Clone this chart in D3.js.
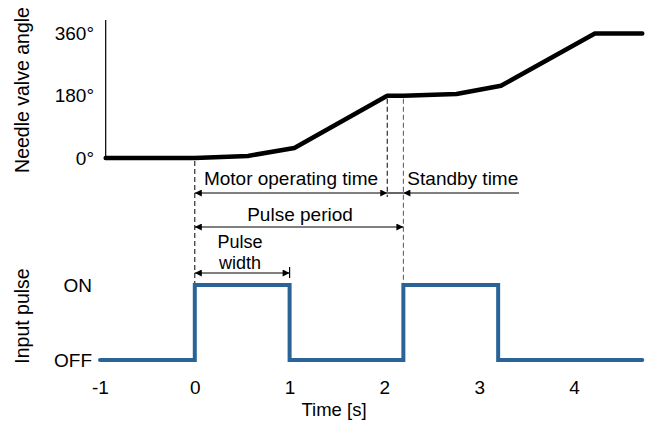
<!DOCTYPE html>
<html>
<head>
<meta charset="utf-8">
<script src="https://cdn.jsdelivr.net/npm/d3@7"></script>
<style>
  html, body { margin: 0; padding: 0; background: #fff; }
  svg { display: block; font-family: "Liberation Sans", Arial, Helvetica, sans-serif; }
</style>
</head>
<body>
<svg id="chart" width="651" height="425"></svg>
<script>
// ---- data ----
const timeTicks = [-1, 0, 1, 2, 3, 4];
const angleTicks = [0, 180, 360];
const angleTickLabels = ["0°", "180°", "360°"];
const pulseLevels = ["OFF", "ON"];

const needleTime  = [-0.94, 0, 0.56, 1.05, 2.03, 2.2, 2.76, 3.23, 4.22, 4.72];
const needleAngle = [0, 0, 6, 29, 180, 180, 185, 209, 360, 360];

const pulseTime  = [-1, 0, 0, 1, 1, 2.2, 2.2, 3.2, 3.2, 4.72];
const pulseState = [0, 0, 1, 1, 0, 0, 1, 1, 0, 0];

const motorEnd = 2.03;     // end of motor operating time
const pulsePeriod = 2.2;   // pulse period
const pulseWidth = 1;      // pulse width
const standbyEnd = 3.42;   // end of standby arrow line

// ---- layout ----
const svg = d3.select("#chart");
const ink = "#000";
const blue = "#2a6496";
const fontSize = 19;

const x = d3.scaleLinear().domain([-1, 4]).range([100, 574]);
const yA = d3.scaleLinear().domain([0, 360]).range([158, 33.5]);
const yP = d3.scaleLinear().domain([0, 1]).range([360, 285]);

// arrow markers
const defs = svg.append("defs");
function marker(id, dir) {
  const m = defs.append("marker")
    .attr("id", id).attr("viewBox", "0 0 10 10")
    .attr("refX", dir === "end" ? 10 : 0).attr("refY", 5)
    .attr("markerWidth", 10).attr("markerHeight", 7)
    .attr("markerUnits", "userSpaceOnUse")
    .attr("orient", "auto");
  m.append("path")
    .attr("d", dir === "end" ? "M0,0 L10,5 L0,10 Z" : "M10,0 L0,5 L10,10 Z")
    .attr("fill", ink);
}
marker("arrEnd", "end");
marker("arrStart", "start");

// ---- top chart: needle valve angle ----
svg.append("line")
  .attr("x1", x(-0.94)).attr("x2", x(-0.94))
  .attr("y1", 20).attr("y2", yA(0))
  .attr("stroke", ink).attr("stroke-width", 1.2);

svg.append("g").selectAll("text").data(angleTicks).join("text")
  .attr("x", 94).attr("y", d => yA(d))
  .attr("dy", "0.35em").attr("text-anchor", "end")
  .attr("font-size", fontSize).attr("fill", ink)
  .text((d, i) => angleTickLabels[i]);

svg.append("text")
  .attr("transform", `translate(29, 90) rotate(-90)`)
  .attr("text-anchor", "middle")
  .attr("font-size", 19.5).attr("fill", ink)
  .text("Needle valve angle");

const needleData = needleTime.map((t, i) => [t, needleAngle[i]]);
svg.append("path")
  .datum(needleData)
  .attr("d", d3.line().x(d => x(d[0])).y(d => yA(d[1])))
  .attr("fill", "none").attr("stroke", ink)
  .attr("stroke-width", 4.5)
  .attr("stroke-linejoin", "round").attr("stroke-linecap", "round");

// ---- dashed guide lines ----
const dash = "5,3";
svg.append("line").attr("x1", x(0)).attr("x2", x(0))
  .attr("y1", yA(0) + 3).attr("y2", yP(1))
  .attr("stroke", ink).attr("stroke-width", 1).attr("stroke-dasharray", dash);
svg.append("line").attr("x1", x(motorEnd)).attr("x2", x(motorEnd))
  .attr("y1", yA(180) + 3).attr("y2", 197)
  .attr("stroke", ink).attr("stroke-width", 1).attr("stroke-dasharray", dash);
svg.append("line").attr("x1", x(pulsePeriod)).attr("x2", x(pulsePeriod))
  .attr("y1", yA(180) + 3).attr("y2", yP(1))
  .attr("stroke", "#555").attr("stroke-width", 1).attr("stroke-dasharray", dash);

// ---- annotations ----
const arrowY1 = 193, arrowY2 = 227, arrowY3 = 273;
// motor operating time
svg.append("line").attr("x1", x(0)).attr("x2", x(motorEnd))
  .attr("y1", arrowY1).attr("y2", arrowY1)
  .attr("stroke", ink).attr("stroke-width", 1.2)
  .attr("marker-start", "url(#arrStart)").attr("marker-end", "url(#arrEnd)");
svg.append("line").attr("x1", x(motorEnd)).attr("x2", x(pulsePeriod))
  .attr("y1", arrowY1).attr("y2", arrowY1)
  .attr("stroke", ink).attr("stroke-width", 1.2);
// standby time
svg.append("line").attr("x1", x(pulsePeriod)).attr("x2", x(standbyEnd))
  .attr("y1", arrowY1).attr("y2", arrowY1)
  .attr("stroke", ink).attr("stroke-width", 1.2)
  .attr("marker-start", "url(#arrStart)");
svg.append("text").attr("x", (x(0) + x(motorEnd)) / 2).attr("y", 185)
  .attr("text-anchor", "middle").attr("font-size", fontSize).attr("fill", ink)
  .text("Motor operating time");
svg.append("text").attr("x", x(pulsePeriod) + 4).attr("y", 185)
  .attr("text-anchor", "start").attr("font-size", fontSize).attr("fill", ink)
  .text("Standby time");

// pulse period
svg.append("line").attr("x1", x(0)).attr("x2", x(pulsePeriod))
  .attr("y1", arrowY2).attr("y2", arrowY2)
  .attr("stroke", ink).attr("stroke-width", 1.2)
  .attr("marker-start", "url(#arrStart)").attr("marker-end", "url(#arrEnd)");
svg.append("text").attr("x", 300).attr("y", 221)
  .attr("text-anchor", "middle").attr("font-size", fontSize).attr("fill", ink)
  .text("Pulse period");

// pulse width
svg.append("line").attr("x1", x(0)).attr("x2", x(pulseWidth))
  .attr("y1", arrowY3).attr("y2", arrowY3)
  .attr("stroke", ink).attr("stroke-width", 1.2)
  .attr("marker-start", "url(#arrStart)").attr("marker-end", "url(#arrEnd)");
svg.append("line").attr("x1", x(pulseWidth)).attr("x2", x(pulseWidth))
  .attr("y1", 267).attr("y2", 278)
  .attr("stroke", ink).attr("stroke-width", 1.2);
svg.append("text").attr("x", 240).attr("y", 247.5)
  .attr("text-anchor", "middle").attr("font-size", 18).attr("fill", ink)
  .text("Pulse");
svg.append("text").attr("x", 240).attr("y", 268.5)
  .attr("text-anchor", "middle").attr("font-size", 18).attr("fill", ink)
  .text("width");

// ---- bottom chart: input pulse ----
svg.append("g").selectAll("text").data(pulseLevels).join("text")
  .attr("x", 92).attr("y", (d, i) => yP(i))
  .attr("dy", "0.35em").attr("text-anchor", "end")
  .attr("font-size", fontSize).attr("fill", ink)
  .text(d => d);

svg.append("text")
  .attr("transform", `translate(29, 316) rotate(-90)`)
  .attr("text-anchor", "middle")
  .attr("font-size", 19.5).attr("fill", ink)
  .text("Input pulse");

const pulseData = pulseTime.map((t, i) => [t, pulseState[i]]);
svg.append("path")
  .datum(pulseData)
  .attr("d", d3.line().x(d => x(d[0])).y(d => yP(d[1])))
  .attr("fill", "none").attr("stroke", blue)
  .attr("stroke-width", 4)
  .attr("stroke-linejoin", "miter").attr("stroke-linecap", "round");

// x axis (labels only)
const xAxis = d3.axisBottom(x).tickValues(timeTicks).tickSize(0).tickPadding(0)
  .tickFormat(d => String(d));
const gx = svg.append("g").attr("transform", "translate(0,380)").call(xAxis);
gx.select(".domain").remove();
gx.selectAll("text").attr("font-size", fontSize)
  .attr("font-family", "Liberation Sans, Arial, Helvetica, sans-serif")
  .attr("fill", ink).attr("dy", "0.71em");

svg.append("text").attr("x", 334).attr("y", 416)
  .attr("text-anchor", "middle").attr("font-size", 18.5).attr("fill", ink)
  .text("Time [s]");
</script>
</body>
</html>
